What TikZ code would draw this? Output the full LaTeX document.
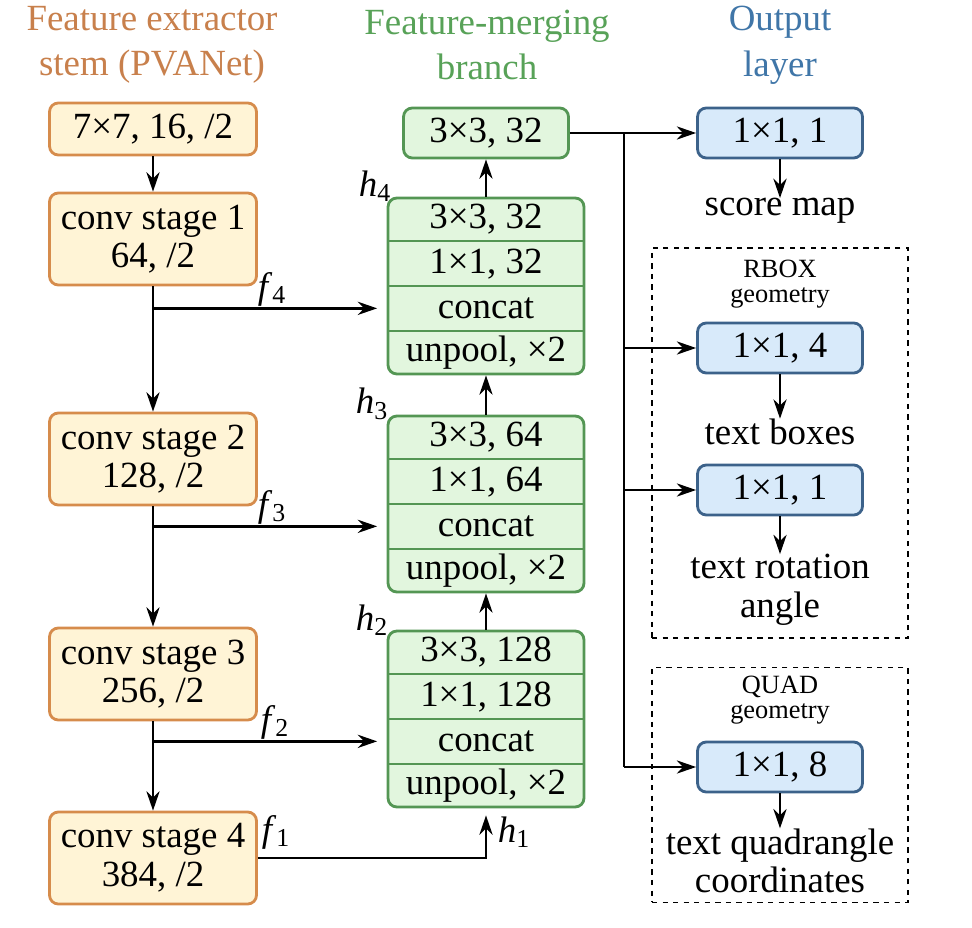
\documentclass[tikz,border=0pt]{standalone}
\usepackage{fontspec}
\setmainfont{Liberation Serif}
\usetikzlibrary{arrows.meta, positioning}
\definecolor{stemedge}{RGB}{214,140,76}
\definecolor{stemfill}{RGB}{255,244,214}
\definecolor{stemtext}{RGB}{200,128,76}
\definecolor{mergeedge}{RGB}{84,150,84}
\definecolor{mergefill}{RGB}{226,246,222}
\definecolor{mergetext}{RGB}{88,162,88}
\definecolor{outedge}{RGB}{60,98,138}
\definecolor{outfill}{RGB}{216,234,250}
\definecolor{outtext}{RGB}{64,118,168}
\newcommand{\sym}[2]{\textit{#1}\textsubscript{#2}}

\tikzset{
  base/.style={font=\fontsize{21}{22}\selectfont, align=center, inner sep=0pt},
  arr/.style={-{Stealth[length=11pt,width=7.5pt]}, line width=1.5pt},
  stembox/.style={base, draw=stemedge, fill=stemfill, line width=1.6pt, rounded corners=5pt, minimum width=4.14cm},
  stackframe/.style={draw=mergeedge, fill=mergefill, line width=1.6pt, rounded corners=5pt, minimum width=3.92cm, minimum height=3.52cm, inner sep=0pt},
  stackrow/.style={base, minimum width=3.92cm, minimum height=0.88cm},
  mergebox/.style={base, draw=mergeedge, fill=mergefill, line width=1.6pt, rounded corners=5pt, minimum width=3.3cm, minimum height=1cm},
  outbox/.style={base, draw=outedge, fill=outfill, line width=1.6pt, rounded corners=5pt, minimum width=3.3cm, minimum height=1cm},
  title/.style={font=\fontsize{21}{26}\selectfont, align=center},
  lab/.style={font=\fontsize{21}{22}\selectfont, inner sep=0pt},
  geomlab/.style={font=\fontsize{15}{14}\selectfont, align=center, inner sep=0pt},
  dashbox/.style={draw, dashed, line width=1.1pt, minimum width=5.12cm}
}

\begin{document}
\begin{tikzpicture}[x=0.02cm, y=-0.02cm]
\useasboundingbox (0,0) rectangle (972,928);

% titles
\node[title, text=stemtext] (tstem) at (152,45) {Feature extractor\\stem (PVANet)};
\node[title, text=mergetext] (tmerge) at (487,45) {Feature-merging\\branch};
\node[title, text=outtext] (tout) at (780,45) {Output\\layer};

% stem
\node[stembox, minimum height=1.04cm] (conv0) at (153,129) {7×7, 16, /2};
\node[stembox, minimum height=1.84cm] (conv1) at (153,239) {conv stage 1\\64, /2};
\node[stembox, minimum height=1.84cm] (conv2) at (153,459) {conv stage 2\\128, /2};
\node[stembox, minimum height=1.84cm] (conv3) at (153,674) {conv stage 3\\256, /2};
\node[stembox, minimum height=1.84cm] (conv4) at (153,858) {conv stage 4\\384, /2};

\draw[arr] (conv0) -- (conv1);
\draw[arr] (conv1) -- (conv2);
\draw[arr] (conv2) -- (conv3);
\draw[arr] (conv3) -- (conv4);

% merging branch
\foreach \n/\y/\k in {4/286/32, 3/504/64, 2/719/128}{
  \node[stackframe] (s\n) at (486,\y) {};
  \node[stackrow, anchor=north] (a\n) at (s\n.north) {3×3, \k};
  \node[stackrow, below=0pt of a\n] (b\n) {1×1, \k};
  \node[stackrow, below=0pt of b\n] (c\n) {concat};
  \node[stackrow, below=0pt of c\n] (d\n) {unpool, ×2};
  \draw[mergeedge, line width=1.3pt] (a\n.south west) -- (a\n.south east)
    (b\n.south west) -- (b\n.south east) (c\n.south west) -- (c\n.south east);
}
\node[mergebox] (g0) at (486,133) {3×3, 32};

\draw[arr] (a4.north) -- (g0.south);
\draw[arr] (a3.north) -- (d4.south);
\draw[arr] (a2.north) -- (d3.south);

\draw[arr] (conv1.south |- c4.west) -- ([xshift=-6pt]c4.west);
\draw[arr] (conv2.south |- c3.west) -- ([xshift=-6pt]c3.west);
\draw[arr] (conv3.south |- c2.west) -- ([xshift=-6pt]c2.west);
\draw[arr] (conv4.east) -| ([yshift=-4pt]d2.south);

\node[lab] (f4) at (272,289) {\sym{f}{4}};
\node[lab] (f3) at (272,507) {\sym{f}{3}};
\node[lab] (f2) at (275,722) {\sym{f}{2}};
\node[lab] (f1) at (276,832) {\sym{f}{1}};
\node[lab] (h4) at (375,186) {\sym{h}{4}};
\node[lab] (h3) at (372,404) {\sym{h}{3}};
\node[lab] (h2) at (372,620) {\sym{h}{2}};
\node[lab] (h1) at (514,832) {\sym{h}{1}};

% output layer
\node[dashbox, minimum height=7.8cm] (rbox) at (780,443) {};
\node[dashbox, minimum height=4.7cm] (quad) at (780,785) {};
\node[geomlab] (rlab) at (780,284) {RBOX\\geometry};
\node[geomlab] (qlab) at (780,700) {QUAD\\geometry};

\node[outbox] (o1) at (780,133) {1×1, 1};
\node[outbox] (o2) at (780,348) {1×1, 4};
\node[outbox] (o3) at (780,490) {1×1, 1};
\node[outbox] (o4) at (780,767) {1×1, 8};

\node[base] (r1) at (780,211) {score map};
\node[base] (r2) at (780,432) {text boxes};
\node[base] (r3) at (780,590) {text rotation\\angle};
\node[base] (r4) at (780,861) {text quadrangle\\coordinates};

\draw[arr] (o1) -- (r1);
\draw[arr] (o2) -- (r2);
\draw[arr] (o3) -- (r3);
\draw[arr] (o4) -- (r4);

\coordinate (trunk) at (624,133);
\draw[arr] (g0.east) -- (o1.west);
\draw[line width=1.5pt] (trunk) -- (trunk |- o4);
\draw[arr] (trunk |- o2) -- (o2.west);
\draw[arr] (trunk |- o3) -- (o3.west);
\draw[arr] (trunk |- o4) -- (o4.west);
\end{tikzpicture}
\end{document}
